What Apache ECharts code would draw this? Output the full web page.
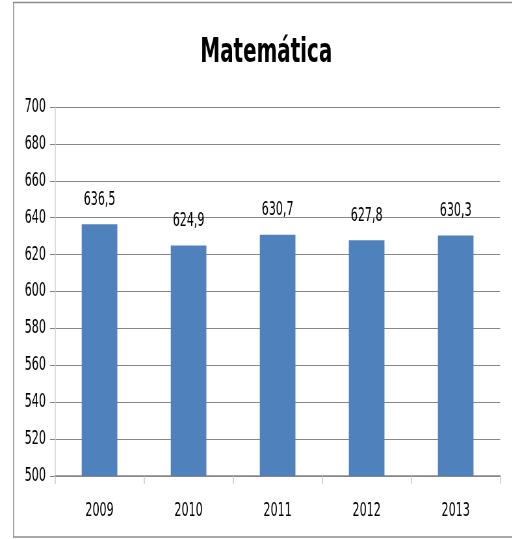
<!DOCTYPE html>
<html>
<head>
<meta charset="utf-8">
<script src="https://cdn.jsdelivr.net/npm/echarts@6/dist/echarts.min.js"></script>
<style>
html,body{margin:0;padding:0;background:#fff;overflow:hidden;width:512px;height:539px;}
#c{width:788px;height:539px;transform:scaleX(0.65);transform-origin:0 0;}
</style>
</head>
<body>
<div id="c"></div>
<script>
var titleText = 'Matemática';
var categories = ['2009', '2010', '2011', '2012', '2013'];
var values = [636.5, 624.9, 630.7, 627.8, 630.3];
var yMin = 500, yMax = 700, yStep = 20;

// The reference text is strongly condensed; the whole chart is drawn wider
// and squeezed horizontally by S with CSS, so x positions below are ref_x / S.
var S = 0.65;
var chart = echarts.init(document.getElementById('c'), null, {renderer: 'canvas'});
var FONT = '"DejaVu Sans Condensed", "DejaVu Sans", sans-serif';
chart.setOption({
  animation: false,
  backgroundColor: '#fff',
  graphic: [{
    type: 'rect',
    shape: {x: 13.5 / S, y: 2.5, width: 520 / S, height: 534.5},
    style: {fill: 'none', stroke: '#8c8c8c', lineWidth: 1.4},
    silent: true
  }],
  title: {
    text: titleText,
    left: 263 / S, top: 31, textAlign: 'center',
    textStyle: {fontFamily: FONT, fontWeight: 'bold', fontSize: 34, color: '#000'}
  },
  grid: {left: 55 / S, right: 12 / S, top: 107, bottom: 63, containLabel: false},
  xAxis: {
    type: 'category',
    data: categories,
    axisLine: {lineStyle: {color: '#868686', width: 1.5}},
    axisTick: {show: true, length: 8, lineStyle: {color: '#c8c8c8', width: 1.5}},
    axisLabel: {fontFamily: FONT, fontSize: 19, color: '#000', margin: 26},
    splitLine: {show: false}
  },
  yAxis: {
    type: 'value',
    min: yMin, max: yMax, interval: yStep,
    axisLine: {show: true, lineStyle: {color: '#d0d0d0', width: 1.5}},
    axisTick: {show: true, length: 5 / S, lineStyle: {color: '#868686'}},
    axisLabel: {fontFamily: FONT, fontSize: 19, color: '#000', margin: 14},
    splitLine: {show: true, lineStyle: {color: '#868686', width: 1}}
  },
  series: [{
    type: 'bar',
    data: values,
    barWidth: '40%',
    itemStyle: {color: '#4F81BD'},
    label: {
      show: true, position: 'top', distance: 15,
      fontFamily: FONT, fontSize: 19, color: '#000',
      formatter: function (p) { return p.value.toFixed(1).replace('.', ','); }
    }
  }]
});
</script>
</body>
</html>
